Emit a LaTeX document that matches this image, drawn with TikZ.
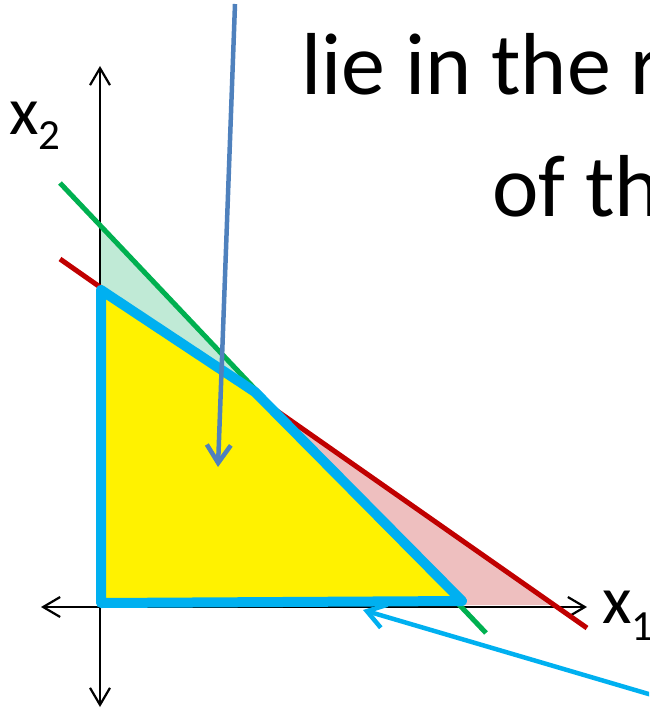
\documentclass[tikz,border=0pt]{standalone}
\usepackage{fontspec}
\setmainfont{Carlito}
\usepackage{xcolor}
\usetikzlibrary{arrows.meta}
\definecolor{lpblue}{HTML}{00B0F0}
\definecolor{lpgreen}{HTML}{00B050}
\definecolor{lpred}{HTML}{C00000}
\definecolor{lpsteel}{HTML}{4F81BD}
\definecolor{lpmint}{HTML}{C0EAD6}
\definecolor{lppink}{HTML}{EEBFBF}

\begin{document}
\begin{tikzpicture}[
  x=1pt,y=-1pt,
  axis/.style={line width=2.2pt,{Straight Barb[length=17pt,width=20pt]}-{Straight Barb[length=17pt,width=20pt]}},
  constraint/.style={line width=5pt},
  region/.style={draw=lpblue,fill=yellow,line width=10pt,line join=round},
  pointer/.style={line width=4.5pt,-{Straight Barb[length=18pt,width=24pt]}},
  lbl/.style={inner sep=0pt,font=\fontsize{68}{70}\selectfont},
  title/.style={inner sep=0pt,anchor=base west,font=\fontsize{88}{100}\selectfont}
]
\useasboundingbox (0,0) rectangle (649,711);
\clip (0,0) rectangle (649,711);
% corner points
\coordinate (O) at (100,607);
\coordinate (ytop) at (100,66);
\coordinate (ybot) at (100,707);
\coordinate (xleft) at (41,607);
\coordinate (xright) at (587,607);
\coordinate (g1) at (60,183);
\coordinate (g2) at (486,633);
\coordinate (r1) at (60,259);
\coordinate (r2) at (587,628);
\coordinate (cross) at (273,408);
% shaded slivers
\fill[lpmint] (100,225) -- (cross) -- (100,287) -- cycle;
\fill[lppink] (cross) -- (554,605) -- (460,605) -- cycle;
% axes
\draw[axis] (ybot) -- (ytop);
\draw[axis] (xleft) -- (xright);
% constraint lines
\draw[constraint,lpgreen] (g1) -- (g2);
\draw[constraint,lpred] (r1) -- (r2);
% feasible region
\draw[region] (101,290) -- (255,392) -- (462,601) -- (101,603) -- cycle;
% labels
\node[lbl,anchor=base west] (x2lab) at (9,135) {x\fontsize{43}{43}\selectfont\raisebox{-15pt}{2}};
\node[lbl,anchor=base west] (x1lab) at (602,623) {x\fontsize{43}{43}\selectfont\raisebox{-17pt}{1}};
\node[title] (line1) at (301,95) {lie in the r};
\node[title] (line2) at (492,217) {of th};
% pointers
\coordinate (sfrom) at (235,4);
\coordinate (stip) at (218,467);
\coordinate (cfrom) at (652,695);
\coordinate (ctip) at (363,610);
\draw[pointer,lpsteel] (sfrom) -- (stip);
\draw[pointer,lpblue] (cfrom) -- (ctip);
\end{tikzpicture}
\end{document}
